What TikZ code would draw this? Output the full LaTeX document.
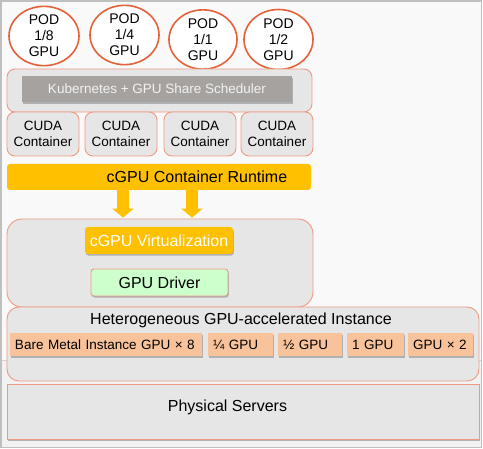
\documentclass[tikz,border=0pt]{standalone}
\usepackage{fontspec}
\setmainfont{Liberation Sans}
\usetikzlibrary{shapes.geometric,shadows,arrows.meta,calc}
\definecolor{frame}{HTML}{BFBFBF}
\definecolor{bgtop}{HTML}{F9F9F9}
\definecolor{bgbot}{HTML}{F2F2F2}
\definecolor{salmon}{HTML}{EE9A80}
\definecolor{podred}{HTML}{E4613A}
\definecolor{boxgray}{HTML}{E6E6E6}
\definecolor{k8sgray}{HTML}{A6A29F}
\definecolor{gold}{HTML}{FFC000}
\definecolor{lgreen}{HTML}{CCFFCC}
\definecolor{peach}{HTML}{F8C39B}
\tikzset{
  pod/.style={ellipse, draw=podred, line width=1.6pt, fill=white, inner sep=0pt,
    align=center, font=\fontsize{14}{16}\selectfont},
  panel/.style={draw=salmon, line width=0.9pt, fill=boxgray, inner sep=0pt},
  cuda/.style={panel, rounded corners=8pt, minimum width=72pt, minimum height=44pt,
    align=center, font=\fontsize{13.5}{16}\selectfont},
  shad/.style={drop shadow={shadow xshift=0.8pt, shadow yshift=-1.6pt, fill=black!45, opacity=0.6}},
  item/.style={fill=peach, shad, minimum height=23pt, inner xsep=5pt, inner ysep=0pt,
    align=left, font=\fontsize{13.5}{16}\selectfont},
  goldarrow/.style={gold, line width=12pt, -{Triangle[width=21pt,length=9pt]}},
}
\begin{document}
\begin{tikzpicture}[x=1pt,y=-1pt]
\useasboundingbox (0,0) rectangle (483,449);
% background
\fill[bgtop] (1,1) rectangle (481.5,360);
\fill[bgbot] (1,360) rectangle (481.5,447.5);
\draw[frame!70, line width=0.6pt] (1,360) -- (481.5,360);
\draw[frame, line width=1.2pt] (1,1) rectangle (481.5,447.5);

% pods
\node[pod, minimum width=70pt, minimum height=58pt] (p1) at (44,36) {POD\\1/8\\GPU};
\node[pod, minimum width=69pt, minimum height=58pt] (p2) at (124.5,35) {POD\\1/4\\GPU};
\node[pod, minimum width=68pt, minimum height=59pt] (p3) at (203,39.5) {POD\\1/1\\GPU};
\node[pod, minimum width=69pt, minimum height=60pt] (p4) at (278.5,39.5) {POD\\1/2\\GPU};

% kubernetes
\node[panel, rounded corners=8pt, minimum width=305pt, minimum height=43pt] (k8s) at (159.5,90.5) {};
\node[fill=k8sgray, shad, minimum width=270pt, minimum height=26pt, inner sep=0pt,
  text=white!95!black, font=\fontsize{13.5}{16}\selectfont] (sched) at (157,89)
  {Kubernetes + GPU Share Scheduler};

% cuda containers
\node[cuda] (c1) at (43,134) {CUDA\\Container};
\node[cuda] (c2) at (121,134) {CUDA\\Container};
\node[cuda] (c3) at (200,134) {CUDA\\Container};
\node[cuda] (c4) at (277,134) {CUDA\\Container};

% runtime
\node[fill=gold, rounded corners=3pt, minimum width=304pt, minimum height=26pt, inner sep=0pt] (rt) at (159,177) {};
\node[font=\fontsize{16}{18}\selectfont, inner sep=0pt] (rttext) at ($(rt.center)+(38,0)$) {cGPU Container Runtime};

% virtualization panel
\node[panel, rounded corners=15pt, minimum width=306pt, minimum height=88pt] (virt) at (160,263) {};
\node[fill=gold, rounded corners=3pt, shad, minimum width=148pt, minimum height=27pt, inner sep=0pt,
  text=white, font=\fontsize{16}{18}\selectfont] (cvirt) at (159,240.5) {cGPU Virtualization};
\node[draw=salmon, line width=0.9pt, fill=lgreen, rounded corners=3pt, shad, minimum width=137pt, minimum height=27pt,
  inner sep=0pt, font=\fontsize{16}{18}\selectfont] (drv) at (159.5,282.5) {GPU Driver};

% arrows
\draw[goldarrow] (rt.south -| 123,0) -- ($(virt.north -| 123,0)+(0,-1)$);
\draw[goldarrow] (rt.south -| 192,0) -- ($(virt.north -| 192,0)+(0,-1)$);

% heterogeneous instance
\node[panel, rounded corners=12pt, minimum width=472pt, minimum height=74pt] (het) at (243,344) {};
\node[font=\fontsize{16}{18}\selectfont, inner sep=0pt] (hettitle) at (241,320) {Heterogeneous GPU-accelerated Instance};
\node[item, text width=182pt] (bm) at (106,344.5) {Bare Metal Instance GPU × 8};
\node[item, text width=55pt] (q) at (240.5,344.5) {¼ GPU};
\node[item, text width=54pt] (h) at (310,344.5) {½ GPU};
\node[item, text width=47pt] (one) at (375.5,344.5) {1 GPU};
\node[item, text width=55pt] (two) at (440.5,344.5) {GPU × 2};

% physical servers
\node[panel, shad, minimum width=472pt, minimum height=55pt] (phys) at (243,411.5) {};
\node[font=\fontsize{16}{18}\selectfont, inner sep=0pt] (physt) at ($(phys.center)+(-15.5,-4)$) {Physical Servers};
\end{tikzpicture}
\end{document}
